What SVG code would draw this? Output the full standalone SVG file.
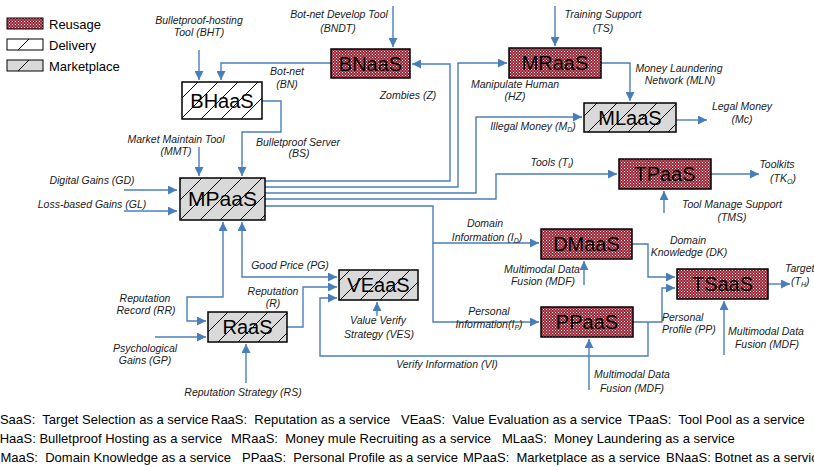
<svg xmlns="http://www.w3.org/2000/svg" width="814" height="467" viewBox="0 0 814 467">
<defs>
<pattern id="dots" patternUnits="userSpaceOnUse" width="3" height="3">
<rect width="3" height="3" fill="#9c2233"/>
<rect x="0" y="0" width="1" height="1" fill="#ffffff"/>
<rect x="1.5" y="1.5" width="1" height="1" fill="#f3dada"/>
</pattern>
<pattern id="hatchW" patternUnits="userSpaceOnUse" width="20" height="20">
<rect width="20" height="20" fill="#ffffff"/>
<path d="M-5,5 L5,-5 M0,20 L20,0 M15,25 L25,15" stroke="#000" stroke-width="1"/>
</pattern>
<pattern id="hatchG" patternUnits="userSpaceOnUse" width="20" height="20">
<rect width="20" height="20" fill="#d9d9d9"/>
<path d="M-5,5 L5,-5 M0,20 L20,0 M15,25 L25,15" stroke="#000" stroke-width="1"/>
</pattern>
<marker id="ah" viewBox="0 0 10 10" refX="10" refY="5" markerWidth="9" markerHeight="9" markerUnits="userSpaceOnUse" orient="auto-start-reverse">
<path d="M0,0 L10,5 L0,10 z" fill="#4a7ebb"/>
</marker>
<style>
.box{stroke:#000;stroke-width:1.5}
.reuse{fill:url(#dots)}
.deliv{fill:url(#hatchW)}
.market{fill:url(#hatchG)}
.nt{font-family:"Liberation Sans",Arial,sans-serif;font-size:20px;text-anchor:middle;fill:#000}
.lb{font-family:"Liberation Sans",Arial,sans-serif;font-size:10.5px;font-style:italic;fill:#1a1a1a;text-anchor:middle}
.ls{text-anchor:start}
.lg{font-family:"Liberation Sans",Arial,sans-serif;font-size:13px;fill:#000}
.ft{font-family:"Liberation Sans",Arial,sans-serif;font-size:13px;fill:#000;white-space:pre}
.c{fill:none;stroke:#4a7ebb;stroke-width:1.4}
.a{marker-end:url(#ah)}
.b{marker-start:url(#ah);marker-end:url(#ah)}
.sub{font-size:7px}
</style>
</defs>

<g id="legend">
<rect class="box reuse" x="7" y="18" width="36" height="11" style="stroke-width:1"/>
<text class="lg" x="49" y="29">Reusage</text>
<rect x="7" y="39" width="36" height="11" fill="#fff" stroke="#000" stroke-width="1"/>
<path d="M18,50 L29,39" stroke="#000" stroke-width="1"/>
<text class="lg" x="49" y="50">Delivery</text>
<rect x="7" y="60" width="36" height="11" fill="#d9d9d9" stroke="#000" stroke-width="1"/>
<path d="M18,71 L29,60" stroke="#000" stroke-width="1"/>
<text class="lg" x="49" y="71">Marketplace</text>
</g>

<g id="connectors">
<path class="c a" d="M199,50 V80"/>
<path class="c a" d="M331,63 H221 V80"/>
<path class="c a" d="M393,6 V47"/>
<path class="c a" d="M265,181 H450 V64 H412"/>
<path class="c a" d="M265,187 H458 V63 H507"/>
<path class="c a" d="M555,6 V46"/>
<path class="c a" d="M601,63 H630 V101"/>
<path class="c a" d="M676,120 H707"/>
<path class="c a" d="M265,193 H476 V117 H582"/>
<path class="c a" d="M265,199 H496 V174 H617"/>
<path class="c a" d="M711,174 H759"/>
<path class="c a" d="M664,213 V191"/>
<path class="c a" d="M199,147 V176"/>
<path class="c a" d="M262,101 H281 V132 H242 V176"/>
<path class="c a" d="M124,190 H177"/>
<path class="c a" d="M124,211 H177"/>
<path class="c a" d="M265,206 H433 V243 H539"/>
<path class="c a" d="M433,243 V322 H539"/>
<path class="c a" d="M584,285 V261"/>
<path class="c a" d="M632,244 H648 V277 H675"/>
<path class="c a" d="M633,322 H662 V288 H675"/>
<path class="c a" d="M648,322 V356 H320 V298 H337"/>
<path class="c a" d="M768,284 H790"/>
<path class="c a" d="M724,355 V301"/>
<path class="c a" d="M589,390 V339"/>
<path class="c a" d="M377,316 V302"/>
<path class="c b" d="M242,222 V277 H337"/>
<path class="c a" d="M287,327 H303 V287 H337"/>
<path class="c b" d="M223,222 V297 H187 V321 H206"/>
<path class="c a" d="M155,337 H206"/>
<path class="c a" d="M246,383 V344"/>
</g>

<g id="BHaaS"><rect class="box deliv" x="182" y="82" width="80" height="37"/><text class="nt" x="222" y="108">BHaaS</text></g>
<g id="BNaaS"><rect class="box reuse" x="331" y="49" width="79" height="29"/><text class="nt" x="370.5" y="71">BNaaS</text></g>
<g id="MRaaS"><rect class="box reuse" x="509" y="48" width="92" height="30"/><text class="nt" x="555" y="70">MRaaS</text></g>
<g id="MLaaS"><rect class="box market" x="584" y="103" width="92" height="29"/><text class="nt" x="630" y="125">MLaaS</text></g>
<g id="MPaaS"><rect class="box market" x="180" y="178" width="85" height="42"/><text class="nt" x="222.5" y="206" style="font-size:21px">MPaaS</text></g>
<g id="TPaaS"><rect class="box reuse" x="619" y="159" width="92" height="30"/><text class="nt" x="665" y="181">TPaaS</text></g>
<g id="DMaaS"><rect class="box reuse" x="541" y="229" width="91" height="30"/><text class="nt" x="586.5" y="251">DMaaS</text></g>
<g id="TSaaS"><rect class="box reuse" x="677" y="269" width="91" height="30"/><text class="nt" x="722.5" y="291">TSaaS</text></g>
<g id="PPaaS"><rect class="box reuse" x="541" y="307" width="92" height="30"/><text class="nt" x="587" y="329">PPaaS</text></g>
<g id="VEaaS"><rect class="box market" x="339" y="270" width="79" height="30"/><text class="nt" x="378.5" y="292">VEaaS</text></g>
<g id="RaaS"><rect class="box market" x="208" y="312" width="79" height="30"/><text class="nt" x="247.5" y="334">RaaS</text></g>

<g id="labels">
<text class="lb" x="199" y="24">Bulletproof-hosting</text>
<text class="lb" x="199" y="36">Tool (BHT)</text>
<text class="lb" x="339" y="18">Bot-net Develop Tool</text>
<text class="lb" x="338" y="32">(BNDT)</text>
<text class="lb" x="287" y="75">Bot-net</text>
<text class="lb" x="287" y="88">(BN)</text>
<text class="lb" x="408" y="99">Zombies (Z)</text>
<text class="lb" x="515" y="88">Manipulate Human</text>
<text class="lb" x="515" y="100">(HZ)</text>
<text class="lb" x="603" y="18">Training Support</text>
<text class="lb" x="603" y="32">(TS)</text>
<text class="lb" x="679" y="72">Money Laundering</text>
<text class="lb" x="680" y="84">Network (MLN)</text>
<text class="lb" x="742" y="110">Legal Money</text>
<text class="lb" x="742" y="123">(Mc)</text>
<text class="lb" x="533" y="130">Illegal Money (M<tspan class="sub" dy="2">D</tspan><tspan dy="-2">)</tspan></text>
<text class="lb" x="552" y="166">Tools (T<tspan class="sub" dy="2">I</tspan><tspan dy="-2">)</tspan></text>
<text class="lb" x="777" y="168">Toolkits</text>
<text class="lb" x="783" y="182">(TK<tspan class="sub" dy="2">O</tspan><tspan dy="-2">)</tspan></text>
<text class="lb" x="732" y="208">Tool Manage Support</text>
<text class="lb" x="732" y="221">(TMS)</text>
<text class="lb" x="176" y="143">Market Maintain Tool</text>
<text class="lb" x="176" y="155">(MMT)</text>
<text class="lb" x="298" y="146">Bulletproof Server</text>
<text class="lb" x="299" y="157">(BS)</text>
<text class="lb" x="92" y="184">Digital Gains (GD)</text>
<text class="lb" x="92" y="208">Loss-based Gains (GL)</text>
<text class="lb" x="485" y="227">Domain</text>
<text class="lb" x="487" y="241">Information (I<tspan class="sub" dy="2">D</tspan><tspan dy="-2">)</tspan></text>
<text class="lb" x="542" y="273">Multimodal Data</text>
<text class="lb" x="543" y="285">Fusion (MDF)</text>
<text class="lb" x="688" y="244">Domain</text>
<text class="lb" x="689" y="256">Knowledge (DK)</text>
<text class="lb ls" x="785" y="272">Target</text>
<text class="lb ls" x="791" y="285">(T<tspan class="sub" dy="2">H</tspan><tspan dy="-2">)</tspan></text>
<text class="lb ls" x="662" y="321">Personal</text>
<text class="lb ls" x="662" y="333">Profile (PP)</text>
<text class="lb" x="766" y="335">Multimodal Data</text>
<text class="lb" x="767" y="348">Fusion (MDF)</text>
<text class="lb" x="632" y="378">Multimodal Data</text>
<text class="lb" x="632" y="392">Fusion (MDF)</text>
<text class="lb" x="489" y="315">Personal</text>
<text class="lb" x="489" y="328">Information(I<tspan class="sub" dy="2">P</tspan><tspan dy="-2">)</tspan></text>
<text class="lb" x="447" y="368">Verify Information (VI)</text>
<text class="lb" x="378" y="324">Value Verify</text>
<text class="lb" x="379" y="338">Strategy (VES)</text>
<text class="lb" x="290" y="269">Good Price (PG)</text>
<text class="lb" x="273" y="295">Reputation</text>
<text class="lb" x="273" y="307">(R)</text>
<text class="lb" x="145" y="302">Reputation</text>
<text class="lb" x="146" y="314">Record (RR)</text>
<text class="lb" x="145" y="352">Psychological</text>
<text class="lb" x="145" y="364">Gains (GP)</text>
<text class="lb" x="243" y="396">Reputation Strategy (RS)</text>
</g>

<g id="footnotes">
<text class="ft" x="-8" y="424">TSaaS:  Target Selection as a service</text>
<text class="ft" x="211" y="424">RaaS:  Reputation as a service</text>
<text class="ft" x="401" y="424">VEaaS:  Value Evaluation as a service</text>
<text class="ft" x="628" y="424">TPaaS:  Tool Pool as a service</text>
<text class="ft" x="-9" y="443">BHaaS: Bulletproof Hosting as a service</text>
<text class="ft" x="231" y="443">MRaaS:  Money mule Recruiting as a service</text>
<text class="ft" x="502" y="443">MLaaS:  Money Laundering as a service</text>
<text class="ft" x="-9" y="462">DMaaS:  Domain Knowledge as a service</text>
<text class="ft" x="242" y="462">PPaaS:  Personal Profile as a service</text>
<text class="ft" x="463" y="462">MPaaS:  Marketplace as a service</text>
<text class="ft" x="666" y="462">BNaaS: Botnet as a service</text>
</g>
</svg>
